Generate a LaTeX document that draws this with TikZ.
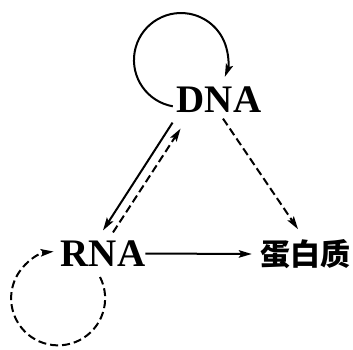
\documentclass[tikz,border=0pt]{standalone}
\usepackage{fontspec}
\newfontfamily\lserif{Liberation Serif}
\newfontfamily\cjk{Noto Sans CJK SC}
\usetikzlibrary{arrows.meta,calc}
\begin{document}
\begin{tikzpicture}[x=1pt,y=1pt,
  lbl/.style={inner sep=0pt,font=\lserif\bfseries\fontsize{39}{39}\selectfont},
  cjklbl/.style={inner sep=0pt,font=\cjk\bfseries\fontsize{30}{30}\selectfont},
  conn/.style={line width=2pt,-{Stealth[length=13pt,width=7.5pt,inset=2.5pt]}},
  dconn/.style={conn,dash pattern=on 8pt off 4pt}]
\useasboundingbox (0,0) rectangle (353,-349);
\node[lbl] (DNA) at (219,-99.5) {DNA};
\node[lbl] (RNA) at (103,-253.5) {RNA};
\node[cjklbl] (P) at (305,-254) {蛋白质};
% DNA self loop
\coordinate (dls) at (172.8,-106.3);
\draw[conn] (dls) arc[start angle=260,end angle=-21,radius=47];
% RNA self loop
\coordinate (rls) at (100,-277);
\draw[dconn] (rls) arc[start angle=27,end angle=-264.5,radius=47];
% DNA -> RNA (solid)
\draw[conn] ($(DNA.south west)+(-4,-10)$) -- ($(RNA.north)+(0,10)$);
% RNA -> DNA (dashed)
\draw[dconn] ($(RNA.north)+(10,8)$) -- ($(DNA.south west)+(4,-16)$);
% DNA -> protein (dashed)
\draw[dconn] ($(DNA.south)+(4,-6)$) -- ($(P.north)+(-7,10)$);
% RNA -> protein (solid)
\draw[conn] (RNA.east) -- ($(P.west)+(-8,0)$);
\end{tikzpicture}
\end{document}
